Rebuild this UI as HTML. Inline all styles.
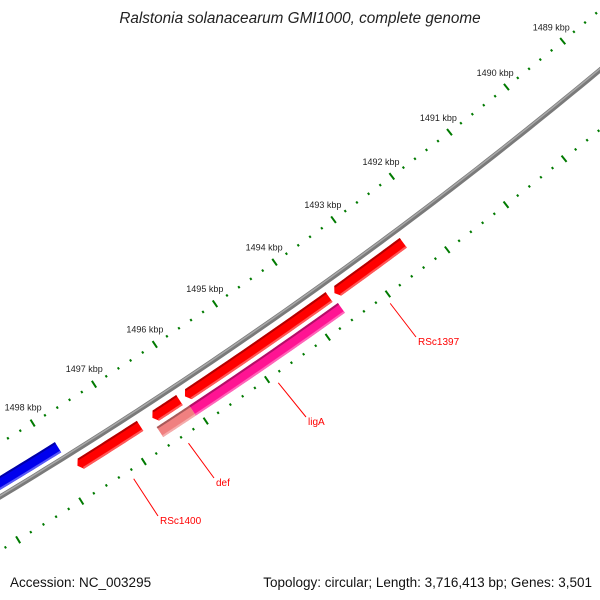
<!DOCTYPE html>
<html><head><meta charset="utf-8"><style>
body{margin:0;background:#fff}
svg{display:block;font-family:"Liberation Sans",sans-serif}
</style></head><body>
<svg id="map" width="600" height="600" viewBox="0 0 600 600">
<text x="300" y="23" text-anchor="middle" font-size="15.3" font-style="italic" fill="#222">Ralstonia solanacearum GMI1000, complete genome</text>
<g id="ticks"></g>
<g id="backbone"></g>
<g id="feats"></g>
<g id="labels"></g>
<text x="10" y="587" font-size="13.5" fill="#111">Accession: NC_003295</text>
<text x="592" y="587" text-anchor="end" font-size="13.5" fill="#111">Topology: circular; Length: 3,716,413 bp; Genes: 3,501</text>
</svg>
<script>
const majorTicks = [1489,1490,1491,1492,1493,1494,1495,1496,1497,1498,1499];
const featureNames = ["RSc1400","small-red","big-red","RSc1397","def","ligA","blue-gene"];
const featureStarts = [1497.79,1496.58,1496.05,1493.58,1496.60,1496.07,1497.88];
const featureEnds   = [1496.78,1496.14,1493.67,1492.42,1496.07,1493.62,1499.8];
const featureColors = ["#ff0000","#ff0000","#ff0000","#ff0000","#f08080","#ff1493","#0000ee"];
const featureRows   = [0,0,0,0,1,1,-1];
const featureArrow  = [1,1,1,1,0,0,-1];
const labelNames = ["RSc1400","def","ligA","RSc1397"];
const labelKbp = [1497.24,1496.36,1494.90,1493.05];
const labelTextPos = [[160,524],[216,486],[308,425],[418,345]];

const NS="http://www.w3.org/2000/svg";
const CX=-2525, CY=-3686, RB=4886;
function ang(k){return (58.10-(1498-k)*0.86)*Math.PI/180;}
function pt(r,a){return [CX+r*Math.cos(a),CY+r*Math.sin(a)];}
function mk(tag,attrs,parent){const e=document.createElementNS(NS,tag);for(const k in attrs)e.setAttribute(k,attrs[k]);parent.appendChild(e);return e;}
function arcPts(r,a1,a2,n){const p=[];for(let i=0;i<=n;i++){p.push(pt(r,a1+(a2-a1)*i/n));}return p;}

const tg=document.getElementById('ticks');
[4840,4932].forEach((R,ri)=>{
  for(let k=1487;k<=1501.001;k+=0.2){
    const kk=Math.round(k*5)/5;
    const a=ang(kk);
    const major=Math.abs(kk-Math.round(kk))<1e-6;
    const len=major?4:1.2;
    const p1=pt(R-len,a),p2=pt(R+len,a);
    const l=mk('line',{x1:p1[0],y1:p1[1],x2:p2[0],y2:p2[1],stroke:'#007a00','stroke-width':2},tg);
    
    
  }
});
majorTicks.forEach(k=>{
  const p=pt(4822,ang(k));
  const t=mk('text',{x:p[0],y:p[1]+3,'text-anchor':'middle','font-size':9,fill:'#222'},tg);
  t.textContent=k+' kbp';
  
  
});

const bb=document.getElementById('backbone');
const bp=arcPts(RB,ang(1488),ang(1500),80).map(p=>p.join(',')).join(' ');
const b1=mk('polyline',{points:bp,fill:'none',stroke:'#7a7a7a','stroke-width':5},bb);


const b2=mk('polyline',{points:arcPts(RB-1,ang(1488),ang(1500),80).map(p=>p.join(',')).join(' '),fill:'none',stroke:'#a8a8a8','stroke-width':1.5},bb);



const fg=document.getElementById('feats');
const rowR={'0':4900,'1':4916,'-1':4874};
function shade(c,f){const n=parseInt(c.slice(1),16);let r=n>>16,g=(n>>8)&255,b=n&255;
  if(f<1){r*=f;g*=f;b*=f;}else{r=r+(255-r)*(f-1);g=g+(255-g)*(f-1);b=b+(255-b)*(f-1);}
  return 'rgb('+[r,g,b].map(v=>Math.round(v)).join(',')+')';}
featureNames.forEach((nm,i)=>{
  const rc=rowR[featureRows[i]], h=6;
  let a1=ang(featureStarts[i]), a2=ang(featureEnds[i]);
  const head=4/rc;
  const dir=Math.sign(a1-a2);
  let pts=[];
  if(featureArrow[i]===1){
    const b=a1-dir*head;
    pts=pts.concat(arcPts(rc-h,b,a2,20),arcPts(rc+h,a2,b,20),[pt(rc,a1)]);
  }else if(featureArrow[i]===-1){
    const b=a2+dir*head;
    pts=pts.concat(arcPts(rc-h,a1,b,20),[pt(rc,a2)],arcPts(rc+h,b,a1,20));
  }else{
    pts=pts.concat(arcPts(rc-h,a1,a2,20),arcPts(rc+h,a2,a1,20));
  }
  const g=mk('g',{},fg);
  
  
  mk('polygon',{points:pts.map(p=>p.join(',')).join(' '),fill:featureColors[i]},g);
  const s1=arcPts(rc-h+1,a1-dir*(featureArrow[i]===1?head:0),a2+(featureArrow[i]===-1?dir*head:0),20);
  const dk=mk('polyline',{points:s1.map(p=>p.join(',')).join(' '),fill:'none',stroke:shade(featureColors[i],0.7),'stroke-width':2},g);
  
  
  const s2=arcPts(rc+h-1,a1-dir*(featureArrow[i]===1?head:0),a2+(featureArrow[i]===-1?dir*head:0),20);
  const lt=mk('polyline',{points:s2.map(p=>p.join(',')).join(' '),fill:'none',stroke:shade(featureColors[i],1.35),'stroke-width':2},g);
  
  
});

const lg=document.getElementById('labels');
labelNames.forEach((nm,i)=>{
  const p=pt(4941,ang(labelKbp[i]));
  const tp=labelTextPos[i];
  const l=mk('line',{x1:p[0],y1:p[1],x2:tp[0]-2,y2:tp[1]-8,stroke:'#ff0000','stroke-width':1},lg);
  
  
  const t=mk('text',{x:tp[0],y:tp[1],'font-size':10,fill:'#ff0000'},lg);
  t.textContent=nm;
  
  
});
</script>
</body></html>
